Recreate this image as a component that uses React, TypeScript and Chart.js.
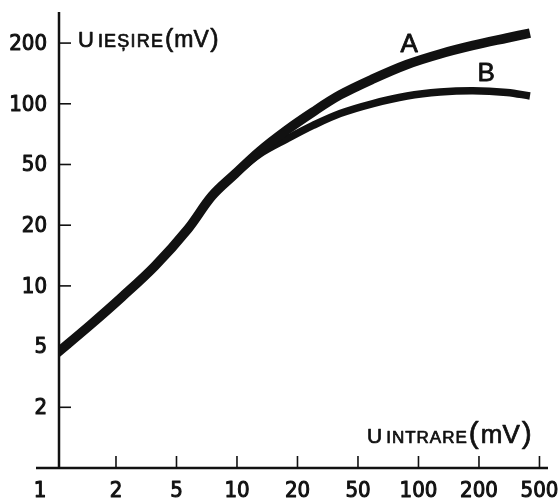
import { useEffect, useRef } from "react";
import { Chart, registerables } from "chart.js";

Chart.register(...registerables);

// 1-2-5 step sequence used by both (equally spaced) axes
const scaleSteps = [1, 2, 5, 10, 20, 50, 100, 200, 500, 1000];
const xTickValues = [1, 2, 5, 10, 20, 50, 100, 200, 500];
const yTickValues = [2, 5, 10, 20, 50, 100, 200];

// U intrare (mV)
const inputMv = [1, 1.49, 2.19, 3.61, 5.7, 7.51, 9.77, 13, 17.7, 25.3, 38.1, 59.4, 87.7, 127.9, 186.7, 305.8, 433];
// U iesire (mV), curve A
const outputA = [4.45, 6.4, 8.81, 12.55, 19.15, 31.1, 43.3, 58.3, 74.1, 91.1, 110.6, 132.8, 156.6, 176.6, 194.6, 216, 232.7];
// U iesire (mV), curve B
const outputB = [4.45, 6.4, 8.81, 12.55, 19.15, 31.1, 43.3, 56.4, 66.9, 78.1, 89.5, 100.3, 109.3, 114.4, 116.2, 113.8, 109.3];

const curveLabels = ["A", "B"];
const labelAt = [
  { x: 90, y: 196 },
  { x: 223, y: 140 },
];

function toPos(v: number): number {
  for (let i = 0; i < scaleSteps.length - 1; i++) {
    const a = scaleSteps[i];
    const b = scaleSteps[i + 1];
    if (v <= b || i === scaleSteps.length - 2) {
      return i + Math.log(v / a) / Math.log(b / a);
    }
  }
  return 0;
}

const INK = "#111";
const DIGIT_FONT = '22px "DejaVu Sans Condensed", "Liberation Sans Narrow", "DejaVu Sans", sans-serif';
const TEXT = '"Liberation Sans", Arial, sans-serif';

type Part = { t: string; size: number; sp?: number; gap?: number };

function heavyText(ctx: CanvasRenderingContext2D, t: string, x: number, y: number, w: number) {
  ctx.fillText(t, x, y);
  ctx.lineWidth = w;
  ctx.strokeText(t, x, y);
}

function drawParts(ctx: CanvasRenderingContext2D, x: number, y: number, parts: Part[]) {
  ctx.textAlign = "left";
  ctx.textBaseline = "alphabetic";
  let cx = x;
  for (const p of parts) {
    ctx.font = `${p.size}px ${TEXT}`;
    const sp = p.sp || 0;
    for (const ch of p.t) {
      heavyText(ctx, ch, cx, y, 0.7);
      cx += ctx.measureText(ch).width + sp;
    }
    cx += (p.gap || 0) - sp;
  }
}

const axesPlugin = {
  id: "handAxes",
  afterDraw(chart: any) {
    const ctx: CanvasRenderingContext2D = chart.ctx;
    const xs = chart.scales.x;
    const ys = chart.scales.y;
    const area = chart.chartArea;
    const x0 = area.left;
    const y0 = ys.getPixelForValue(toPos(1));
    ctx.save();
    ctx.strokeStyle = INK;
    ctx.fillStyle = INK;
    ctx.lineJoin = "round";

    // axis lines
    ctx.lineWidth = 2.5;
    ctx.beginPath();
    ctx.moveTo(x0, 12);
    ctx.lineTo(x0, y0);
    ctx.moveTo(36, y0);
    ctx.lineTo(548, y0);
    ctx.stroke();

    // y ticks + labels
    ctx.font = DIGIT_FONT;
    ctx.textAlign = "right";
    ctx.textBaseline = "middle";
    for (const v of yTickValues) {
      const py = ys.getPixelForValue(toPos(v));
      ctx.lineWidth = 1.6;
      ctx.beginPath();
      ctx.moveTo(x0, py);
      ctx.lineTo(x0 + 12, py);
      ctx.stroke();
      heavyText(ctx, String(v), 47, py + 1, 1);
    }

    // x ticks + labels
    ctx.textAlign = "center";
    ctx.textBaseline = "alphabetic";
    for (const v of xTickValues) {
      const px = xs.getPixelForValue(toPos(v));
      if (v !== 1) {
        ctx.lineWidth = 1.6;
        ctx.beginPath();
        ctx.moveTo(px, y0);
        ctx.lineTo(px, y0 - 12);
        ctx.stroke();
      }
      const lx = v === 1 ? 40 : px;
      heavyText(ctx, String(v), lx, 497, 1);
    }

    // axis titles
    drawParts(ctx, 78, 47, [
      { t: "U", size: 22, gap: 4 },
      { t: "IEȘIRE", size: 18, sp: 1.2, gap: 2 },
      { t: "(", size: 25, gap: 1 },
      { t: "mV", size: 23, gap: 1.5 },
      { t: ")", size: 25 },
    ]);
    drawParts(ctx, 367, 443, [
      { t: "U", size: 21, gap: 4 },
      { t: "INTRARE", size: 17, sp: 1, gap: 2 },
      { t: "(", size: 30, gap: 2 },
      { t: "mV", size: 26, gap: 2 },
      { t: ")", size: 30 },
    ]);

    // curve labels
    ctx.font = `26px ${TEXT}`;
    ctx.textAlign = "center";
    ctx.textBaseline = "middle";
    curveLabels.forEach((t, i) => {
      const p = labelAt[i];
      heavyText(ctx, t, xs.getPixelForValue(toPos(p.x)), ys.getPixelForValue(toPos(p.y)), 0.8);
    });
    ctx.restore();
  },
};

export default function App() {
  const ref = useRef<HTMLCanvasElement | null>(null);

  useEffect(() => {
    if (!ref.current) return;
    const mk = (ys: number[]) => inputMv.map((x, i) => ({ x: toPos(x), y: toPos(ys[i]) }));
    const common = {
      borderColor: INK,
      pointRadius: 0,
      tension: 0.35,
      borderCapStyle: "butt",
      borderJoinStyle: "round",
      clip: 0,
    };
    const chart = new Chart(ref.current, {
      type: "line",
      data: {
        datasets: [
          { ...common, label: curveLabels[0], data: mk(outputA), borderWidth: 9.5 },
          { ...common, label: curveLabels[1], data: mk(outputB), borderWidth: 7.5 },
        ],
      },
      options: {
        animation: false,
        responsive: false,
        devicePixelRatio: 1,
        layout: { padding: { left: 59, right: 10, top: 10, bottom: 32 } },
        plugins: { legend: { display: false }, tooltip: { enabled: false } },
        scales: {
          x: { type: "linear", display: false, min: 0.058, max: 8.174 },
          y: { type: "linear", display: false, min: 0, max: 7.545 },
        },
      },
      plugins: [axesPlugin],
    } as any);
    return () => chart.destroy();
  }, []);

  return (
    <div style={{ position: "absolute", left: 0, top: 0, width: 560, height: 500, background: "#fff" }}>
      <canvas ref={ref} width={560} height={500} style={{ display: "block" }} />
    </div>
  );
}
